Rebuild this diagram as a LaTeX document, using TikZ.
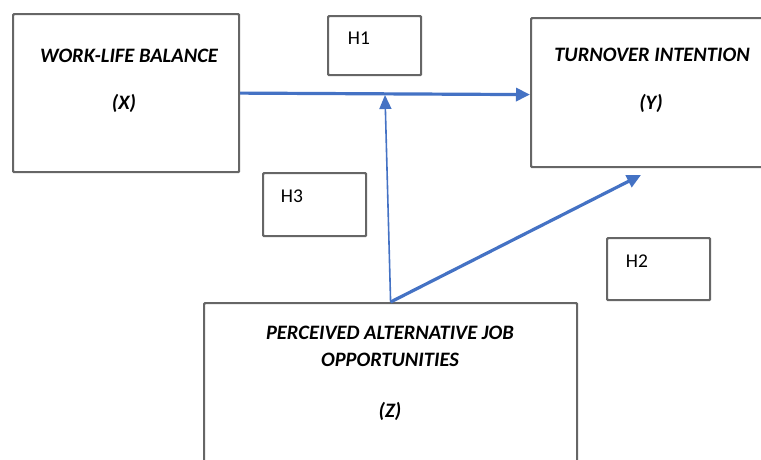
\documentclass[tikz,border=0pt]{standalone}
\usepackage{fontspec}
\setmainfont{Carlito}
\usetikzlibrary{arrows.meta}
\definecolor{arrowblue}{HTML}{4472C4}
\definecolor{boxgray}{HTML}{666666}
\tikzset{
  box/.style={draw=boxgray, line width=2.2pt, rounded corners=1pt, minimum width=#1, inner sep=0pt, anchor=north west},
  lbl/.style={font=\fontsize{20.5}{24}\selectfont\bfseries\itshape, text=black, inner sep=0pt, align=center},
  hlbl/.style={font=\fontsize{19.5}{23}\selectfont, text=black, inner sep=0pt},
  thick arrow/.style={draw=arrowblue, line width=3.2pt, -{Triangle[length=14pt,width=13pt]}},
  thin arrow/.style={draw=arrowblue, line width=1.6pt, -{Triangle[length=14pt,width=12pt]}}
}
\begin{document}
\begin{tikzpicture}[x=1pt,y=1pt]
\useasboundingbox (0,0) rectangle (761,-459);
% boxes
\node[box=226pt, minimum height=158pt] (WLB) at (12,-13) {};
\node[box=93pt, minimum height=59pt] (H1) at (327,-15) {};
\node[box=240pt, minimum height=149pt] (TI) at (530,-17) {};
\node[box=103pt, minimum height=63pt] (H3) at (262,-172) {};
\node[box=103pt, minimum height=62pt] (H2) at (606,-237) {};
\node[box=373pt, minimum height=170pt] (PAJO) at (203,-302) {};
% texts
\node[lbl] (tX1) at (129,-56) {WORK-LIFE BALANCE};
\node[lbl] (tX2) at (124,-103) {(X)};
\node[lbl] (tY1) at (652,-55) {TURNOVER INTENTION};
\node[lbl] (tY2) at (651,-103) {(Y)};
\node[lbl] (tZ1) at (390,-333) {PERCEIVED ALTERNATIVE JOB};
\node[lbl] (tZ2) at (390,-360) {OPPORTUNITIES};
\node[lbl] (tZ3) at (390,-411) {(Z)};
\node[hlbl] (h1) at (359,-38) {H1};
\node[hlbl] (h3) at (292,-196) {H3};
\node[hlbl] (h2) at (637,-261) {H2};
% connectors
\coordinate (mid) at (385,-95);
\coordinate (ztip) at (641,-175);
\draw[thick arrow] (WLB.east) -- ([yshift=-2pt]TI.west);
\draw[thin arrow] (PAJO.north) -- (mid);
\draw[thick arrow] (PAJO.north) -- (ztip);
\end{tikzpicture}
\end{document}
